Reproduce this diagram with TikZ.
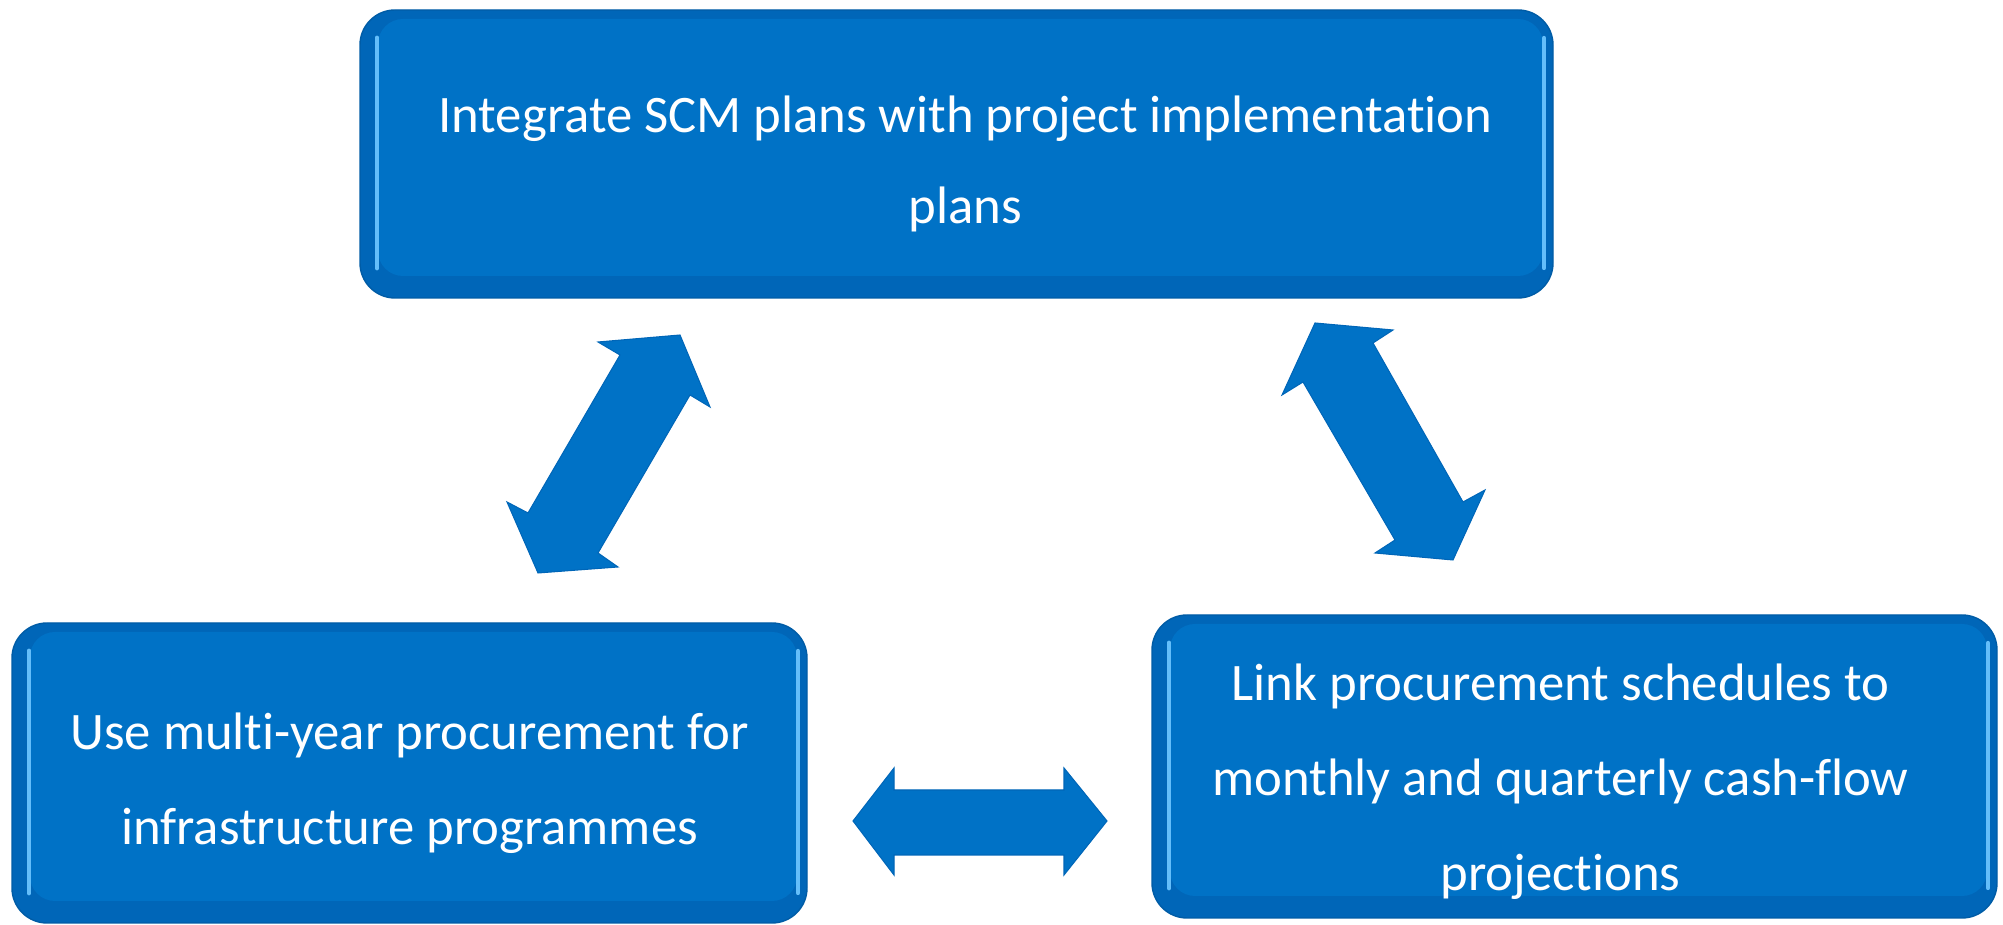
\documentclass[tikz,border=0pt]{standalone}
\usepackage{fontspec}
\setmainfont{Carlito}[Ligatures=NoCommon]
\usetikzlibrary{calc,positioning}
\definecolor{boxblue}{RGB}{0,114,198}
\definecolor{rimblue}{RGB}{0,102,184}
\definecolor{hiblue}{RGB}{100,190,250}
\tikzset{
  plate/.style={rounded corners=0.35cm, fill=rimblue, draw=rimblue!90!black, line width=0.4pt, inner sep=0pt,
    path picture={
      \fill[boxblue, rounded corners=0.25cm] ($(path picture bounding box.north west)+(0.18,-0.09)$) rectangle ($(path picture bounding box.south east)+(-0.10,0.22)$);
      \draw[hiblue, line width=1.4pt, line cap=round] ($(path picture bounding box.north west)+(0.17,-0.28)$) -- ($(path picture bounding box.south west)+(0.17,0.30)$);
      \draw[hiblue, line width=1.2pt, line cap=round] ($(path picture bounding box.north east)+(-0.09,-0.28)$) -- ($(path picture bounding box.south east)+(-0.09,0.30)$);
    }},
  platetext/.style={text=white, align=center, inner sep=0pt, font=\fontsize{15}{27}\selectfont},
  blockarrow/.style={fill=boxblue, draw=rimblue, line width=0.3pt, line join=miter}
}
\begin{document}
\begin{tikzpicture}
% ==========================================
\useasboundingbox (0,0) rectangle (20.03,-9.25);
%
\node[plate, minimum width=11.93cm, minimum height=2.88cm] (plan) at (9.565,-1.54) {};
\node[plate, minimum width=7.95cm, minimum height=3.0cm] (multi) at (4.095,-7.73) {};
\node[plate, minimum width=8.45cm, minimum height=3.03cm] (link) at (15.745,-7.665) {};
%
\node[platetext, font=\fontsize{15}{26}\selectfont] (plantxt) at ([xshift=0.09cm,yshift=-0.10cm]plan.center)
  {Integrate SCM plans with project implementation\\ plans};
\node[platetext] (multitxt) at ([yshift=-0.10cm]multi.center)
  {Use multi-year procurement for\\ infrastructure programmes};
\node[platetext] (linktxt) at ([xshift=-0.14cm,yshift=-0.15cm]link.center)
  {Link procurement schedules to\\ monthly and quarterly cash-flow\\ projections};
%
\filldraw[blockarrow] plot coordinates { (6.80,-3.35)(7.10,-4.07)(6.90,-3.95)(5.98,-5.53)(6.18,-5.67)
(5.38,-5.73)(5.07,-5.02)(5.28,-5.13)(6.20,-3.55)(5.98,-3.42) } -- cycle;%plan--multi.
\filldraw[blockarrow] plot coordinates { (13.15,-3.23)(13.93,-3.30)(13.73,-3.43)(14.63,-5.02)(14.85,-4.90)
(14.53,-5.60)(13.75,-5.53)(13.95,-5.40)(13.03,-3.82)(12.82,-3.95) } -- cycle;%plan--link.
\filldraw[blockarrow] plot coordinates { (8.53,-8.21)(8.94,-7.68)(8.94,-7.90)(10.64,-7.90)(10.64,-7.68)
(11.07,-8.21)(10.64,-8.75)(10.64,-8.55)(8.94,-8.55)(8.94,-8.75) } -- cycle;%multi--link.
% =============================================
\end{tikzpicture}
\end{document}
